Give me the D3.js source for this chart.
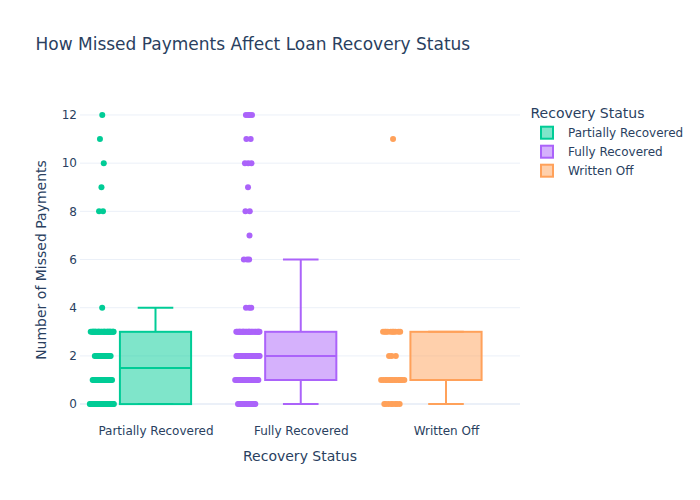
<!DOCTYPE html>
<html>
<head>
<meta charset="utf-8">
<script src="https://cdn.jsdelivr.net/npm/d3@7"></script>
<style>
  html, body { margin: 0; padding: 0; background: #fff; }
  svg { display: block; font-family: "DejaVu Sans", verdana, sans-serif; }
</style>
</head>
<body>
<svg id="chart" width="700" height="500"></svg>
<script>
// ---- data ----
const categories = ["Partially Recovered", "Fully Recovered", "Written Off"];
const colors = ["#00cc96", "#ab63fa", "#ffa15a"];
const missedValues = [0, 1, 2, 3, 4, 5, 6, 7, 8, 9, 10, 11, 12];
// number of loans at each missed-payment value, per recovery status
const countsPartially = [30, 20, 15, 28, 1, 0, 0, 0, 2, 1, 1, 1, 1];
const countsFully     = [15, 25, 25, 25, 3, 0, 3, 1, 2, 1, 3, 2, 4];
const countsWritten   = [8, 15, 3, 10, 0, 0, 0, 0, 0, 0, 0, 1, 0];
const yTicks = [0, 2, 4, 6, 8, 10, 12];

const allCounts = [countsPartially, countsFully, countsWritten];

// ---- layout ----
const W = 700, H = 500;
const m = { l: 80, r: 180, t: 100, b: 80 };
const pl = m.l, pr = W - m.r, pt = m.t, pb = H - m.b;
const textColor = "#2a3f5f";
const gridColor = "#ebf0f8";
const FONT = '"DejaVu Sans", verdana, sans-serif';

const svg = d3.select("#chart");

const y = d3.scaleLinear().domain([-0.66, 12.62]).range([pb, pt]);
const x = d3.scalePoint().domain(categories).range([pl + 75.5, pr - 74]);
const step = x.step();
const boxW = 0.49 * step;
const half = boxW / 2;

// grid
const gGrid = svg.append("g");
gGrid.selectAll("line").data(yTicks).join("line")
  .attr("x1", pl).attr("x2", pr)
  .attr("y1", d => y(d)).attr("y2", d => y(d))
  .attr("stroke", gridColor)
  .attr("stroke-width", d => d === 0 ? 2 : 1);

// y axis
const yAxis = svg.append("g").attr("transform", `translate(${pl},0)`)
  .call(d3.axisLeft(y).tickValues(yTicks).tickSize(0).tickPadding(3));
yAxis.select(".domain").remove();
yAxis.selectAll("text").attr("fill", textColor).style("font-size", "12px")
  .style("font-family", FONT);

// x axis
const xAxis = svg.append("g").attr("transform", `translate(0,${pb})`)
  .call(d3.axisBottom(x).tickSize(0).tickPadding(6));
xAxis.select(".domain").remove();
xAxis.selectAll("text").attr("fill", textColor).style("font-size", "12px")
  .style("font-family", FONT);

// boxes + points
categories.forEach((cat, ci) => {
  const counts = allCounts[ci];
  const col = colors[ci];
  const data = [];
  missedValues.forEach((v, vi) => { for (let k = 0; k < counts[vi]; k++) data.push(v); });
  data.sort(d3.ascending);
  const q1 = d3.quantile(data, 0.25);
  const med = d3.quantile(data, 0.5);
  const q3 = d3.quantile(data, 0.75);
  const iqr = q3 - q1;
  const lo = d3.min(data.filter(d => d >= q1 - 1.5 * iqr));
  const hi = d3.max(data.filter(d => d <= q3 + 1.5 * iqr));
  const cx = x(cat);
  const g = svg.append("g");

  // points (pointpos -1.5, jitter 0.3)
  const maxC = d3.max(counts);
  const ptCenter = cx - 1.5 * half;
  const jit = 0.3 * half * 1.15;
  const pts = [];
  missedValues.forEach((v, vi) => {
    const c = counts[vi];
    const dens = Math.min(1, Math.sqrt(c / maxC));
    for (let k = 0; k < c; k++) {
      const t = ((k * 0.6180339887 + vi * 0.377 + ci * 0.21) % 1) * 2 - 1;
      pts.push({ v, off: t * jit * Math.max(dens, 0.25) });
    }
  });
  g.selectAll("circle").data(pts).join("circle")
    .attr("cx", d => ptCenter + d.off)
    .attr("cy", d => y(d.v))
    .attr("r", 3)
    .attr("fill", col);

  // whiskers
  g.append("line").attr("x1", cx).attr("x2", cx).attr("y1", y(q3)).attr("y2", y(hi))
    .attr("stroke", col).attr("stroke-width", 2);
  g.append("line").attr("x1", cx).attr("x2", cx).attr("y1", y(q1)).attr("y2", y(lo))
    .attr("stroke", col).attr("stroke-width", 2);
  [hi, lo].forEach(w => {
    g.append("line").attr("x1", cx - half / 2).attr("x2", cx + half / 2)
      .attr("y1", y(w)).attr("y2", y(w))
      .attr("stroke", col).attr("stroke-width", 2);
  });
  // box
  g.append("rect")
    .attr("x", cx - half).attr("width", boxW)
    .attr("y", y(q3)).attr("height", y(q1) - y(q3))
    .attr("fill", col).attr("fill-opacity", 0.5)
    .attr("stroke", col).attr("stroke-width", 2);
  g.append("line").attr("x1", cx - half).attr("x2", cx + half)
    .attr("y1", y(med)).attr("y2", y(med))
    .attr("stroke", col).attr("stroke-width", 2);
});

// titles
svg.append("text").attr("x", 35.5).attr("y", 50)
  .attr("fill", textColor).style("font-size", "17px")
  .text("How Missed Payments Affect Loan Recovery Status");

svg.append("text").attr("x", (pl + pr) / 2).attr("y", 460.5)
  .attr("text-anchor", "middle").attr("fill", textColor).style("font-size", "14px")
  .text("Recovery Status");

svg.append("text")
  .attr("transform", `translate(45.5,${(pt + pb) / 2}) rotate(-90)`)
  .attr("text-anchor", "middle").attr("fill", textColor).style("font-size", "14px")
  .text("Number of Missed Payments");

// legend
const lg = svg.append("g");
lg.append("text").attr("x", 530.5).attr("y", 118)
  .attr("fill", textColor).style("font-size", "14px").text("Recovery Status");
categories.forEach((cat, i) => {
  const cy = 132.7 + i * 19;
  lg.append("rect").attr("x", 541).attr("y", cy - 6).attr("width", 12).attr("height", 12)
    .attr("fill", colors[i]).attr("fill-opacity", 0.5)
    .attr("stroke", colors[i]).attr("stroke-width", 2);
  lg.append("text").attr("x", 568).attr("y", cy + 4.2)
    .attr("fill", textColor).style("font-size", "12px").text(cat);
});
</script>
</body>
</html>
